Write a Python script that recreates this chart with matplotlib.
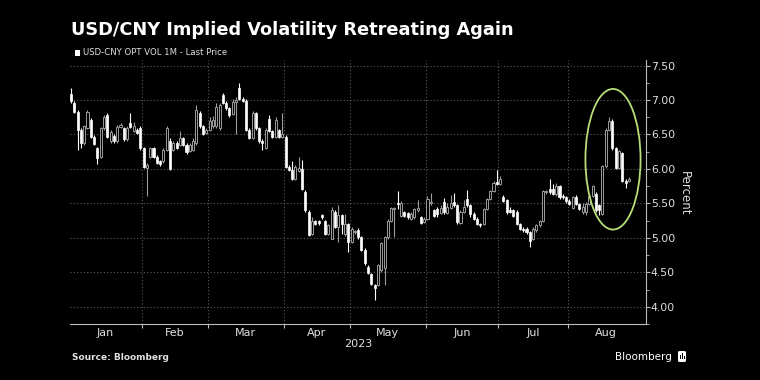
import matplotlib
matplotlib.use("Agg")
from matplotlib import pyplot as plt
from matplotlib.patches import Ellipse, FancyBboxPatch, Rectangle
import numpy as np
import pandas as pd

# USD-CNY 1M implied vol, daily candles Jan 2 - late Aug 2023

opens = [
    # Jan
    7.09, 6.96, 6.83, 6.57, 6.37, 6.60, 6.71, 6.47, 6.30, 6.18, 6.59, 6.78, 6.40, 6.48, 6.40, 6.61, 6.59, 6.43, 6.66, 6.55, 6.57, 6.59,
    # Feb
    6.30, 6.02, 6.18, 6.30, 6.18, 6.11, 6.11, 6.28, 6.40, 6.28, 6.38, 6.35, 6.45, 6.35, 6.26, 6.28, 6.38, 6.81, 6.62, 6.52,
    # Mar
    6.57, 6.62, 6.62, 6.59, 7.07, 6.96, 6.88, 6.80, 6.97, 7.17, 7.02, 6.99, 6.57, 6.45, 6.81, 6.59, 6.41, 6.31, 6.72, 6.55, 6.47, 6.56, 6.47,
    # Apr
    6.47, 6.03, 5.99, 5.86, 5.97, 6.00, 5.67, 5.38, 5.06, 5.24, 5.24, 5.33, 5.24, 5.06, 4.99, 5.37, 5.16, 5.33, 5.05, 5.20,
    # May
    4.94, 5.08, 5.12, 5.01, 4.83, 4.58, 4.47, 4.31, 4.32, 4.53, 4.56, 5.01, 5.25, 5.42, 5.51, 5.32, 5.37, 5.36, 5.28, 5.30, 5.40, 5.30, 5.23,
    # Jun
    5.28, 5.50, 5.40, 5.42, 5.36, 5.52, 5.36, 5.44, 5.52, 5.47, 5.22, 5.38, 5.57, 5.47, 5.35, 5.28, 5.20, 5.20, 5.42, 5.56, 5.68, 5.81,
    # Jul
    5.78, 5.59, 5.55, 5.40, 5.40, 5.38, 5.20, 5.13, 5.13, 5.08, 4.99, 5.11, 5.18, 5.25, 5.66, 5.71, 5.71, 5.63, 5.75, 5.61, 5.59,
    # Aug
    5.54, 5.44, 5.59, 5.49, 5.37, 5.37, 5.49, 5.61, 5.63, 5.47, 5.35, 6.04, 6.57, 6.69, 6.30, 6.02, 6.23, 5.83, 5.83,
]

closes = [
    6.98, 6.83, 6.57, 6.37, 6.62, 6.83, 6.47, 6.36, 6.16, 6.59, 6.76, 6.47, 6.54, 6.40, 6.61, 6.64, 6.43, 6.60, 6.61, 6.62, 6.52, 6.30,
    6.03, 6.05, 6.30, 6.18, 6.09, 6.07, 6.28, 6.59, 6.00, 6.38, 6.31, 6.45, 6.35, 6.24, 6.35, 6.40, 6.85, 6.62, 6.51, 6.57,
    6.69, 6.71, 6.90, 6.93, 6.96, 6.88, 6.78, 6.97, 7.00, 7.02, 6.99, 6.57, 6.45, 6.81, 6.59, 6.40, 6.37, 6.57, 6.55, 6.47, 6.71, 6.47, 6.50,
    6.03, 5.99, 5.86, 6.03, 6.02, 5.71, 5.40, 5.04, 5.25, 5.20, 5.21, 5.30, 5.06, 5.18, 5.40, 5.16, 5.33, 5.20, 5.20, 4.94,
    5.13, 5.10, 5.01, 4.83, 4.63, 4.49, 4.33, 4.27, 4.60, 4.92, 5.01, 5.25, 5.43, 5.43, 5.49, 5.51, 5.32, 5.30, 5.35, 5.42, 5.44, 5.22, 5.28,
    5.57, 5.52, 5.32, 5.35, 5.44, 5.37, 5.45, 5.50, 5.47, 5.23, 5.38, 5.45, 5.47, 5.35, 5.28, 5.20, 5.18, 5.42, 5.56, 5.68, 5.80, 5.78,
    5.85, 5.54, 5.37, 5.38, 5.32, 5.20, 5.13, 5.11, 5.09, 4.96, 5.13, 5.18, 5.24, 5.68, 5.68, 5.66, 5.64, 5.75, 5.59, 5.59, 5.54,
    5.49, 5.59, 5.49, 5.42, 5.45, 5.49, 5.61, 5.75, 5.40, 5.40, 6.04, 6.57, 6.69, 6.30, 6.02, 6.26, 5.83, 5.80, 5.86,
]

highs = [
    7.17, 6.98, 6.85, 6.60, 6.64, 6.86, 6.74, 6.49, 6.32, 6.61, 6.78, 6.81, 6.56, 6.50, 6.63, 6.66, 6.61, 6.62, 6.81, 6.68, 6.59, 6.62,
    6.32, 6.08, 6.32, 6.32, 6.20, 6.13, 6.30, 6.62, 6.45, 6.40, 6.40, 6.55, 6.47, 6.37, 6.37, 6.45, 6.92, 6.84, 6.64, 6.59,
    6.75, 6.77, 6.95, 6.96, 7.10, 6.98, 6.90, 7.02, 7.05, 7.25, 7.05, 7.01, 6.59, 6.84, 6.83, 6.61, 6.43, 6.60, 6.78, 6.57, 6.76, 6.58, 6.81,
    6.49, 6.05, 6.12, 6.05, 6.17, 6.13, 5.69, 5.40, 5.30, 5.26, 5.26, 5.35, 5.26, 5.20, 5.45, 5.40, 5.47, 5.35, 5.35, 5.22,
    5.15, 5.12, 5.14, 5.03, 4.85, 4.60, 4.49, 4.33, 4.62, 4.94, 5.03, 5.27, 5.45, 5.45, 5.68, 5.53, 5.39, 5.38, 5.37, 5.44, 5.55, 5.32, 5.30,
    5.60, 5.65, 5.42, 5.45, 5.48, 5.58, 5.50, 5.62, 5.65, 5.49, 5.40, 5.55, 5.70, 5.49, 5.37, 5.30, 5.22, 5.44, 5.58, 5.70, 5.82, 5.99,
    5.90, 5.62, 5.57, 5.45, 5.42, 5.40, 5.22, 5.15, 5.15, 5.10, 5.15, 5.20, 5.26, 5.70, 5.70, 5.85, 5.78, 5.80, 5.77, 5.63, 5.61,
    5.56, 5.61, 5.62, 5.51, 5.50, 5.52, 5.63, 5.77, 5.66, 5.49, 6.06, 6.59, 6.76, 6.72, 6.32, 6.28, 6.25, 5.85, 5.88,
]

lows = [
    6.96, 6.81, 6.28, 6.30, 6.35, 6.58, 6.45, 6.34, 6.07, 6.16, 6.57, 6.45, 6.38, 6.38, 6.38, 6.59, 6.41, 6.41, 6.59, 6.53, 6.50, 6.28,
    6.01, 5.61, 6.16, 6.16, 6.07, 6.04, 6.09, 6.26, 5.98, 6.26, 6.29, 6.33, 6.33, 6.22, 6.24, 6.26, 6.35, 6.60, 6.49, 6.50,
    6.55, 6.60, 6.60, 6.57, 6.94, 6.86, 6.76, 6.78, 6.50, 7.00, 6.97, 6.55, 6.43, 6.43, 6.57, 6.38, 6.28, 6.29, 6.53, 6.45, 6.45, 6.45, 6.45,
    6.01, 5.97, 5.84, 5.84, 5.95, 5.69, 5.38, 5.02, 5.04, 5.18, 5.19, 5.28, 5.04, 5.04, 4.98, 5.14, 4.94, 5.05, 5.03, 4.80,
    4.92, 5.06, 4.99, 4.81, 4.61, 4.47, 4.31, 4.10, 4.30, 4.51, 4.32, 4.99, 5.23, 5.01, 5.42, 5.30, 5.30, 5.28, 5.26, 5.28, 5.38, 5.20, 5.21,
    5.26, 5.48, 5.30, 5.30, 5.34, 5.35, 5.34, 5.42, 5.45, 5.20, 5.20, 5.36, 5.45, 5.30, 5.26, 5.18, 5.16, 5.18, 5.40, 5.55, 5.66, 5.76,
    5.76, 5.52, 5.35, 5.36, 5.30, 5.18, 5.11, 5.09, 5.05, 4.87, 4.97, 5.09, 5.16, 5.23, 5.64, 5.64, 5.62, 5.61, 5.57, 5.57, 5.50,
    5.47, 5.42, 5.47, 5.40, 5.35, 5.33, 5.47, 5.59, 5.38, 5.33, 5.33, 6.02, 6.55, 6.28, 6.00, 6.00, 5.81, 5.72, 5.81,
]

months = ["Jan", "Feb", "Mar", "Apr", "May", "Jun", "Jul", "Aug"]
yticks = [4.00, 4.50, 5.00, 5.50, 6.00, 6.50, 7.00, 7.50]

o = np.array(opens)
c = np.array(closes)
h = np.array(highs)
l = np.array(lows)
x = np.arange(len(c))

# business-day axis Jan 2 - Aug 31
days = pd.bdate_range("2023-01-02", "2023-08-31")
month_no = days.month.values
starts = [np.where(month_no == m)[0][0] for m in range(1, 9)]
ends = [np.where(month_no == m)[0][-1] for m in range(1, 9)]
bounds = [s - 0.5 for s in starts]
centers = [(s + e) / 2 for s, e in zip(starts, ends)]

bg = "black"
grey = "#9c9c9c"
fig = plt.figure(figsize=(7.6, 3.8), dpi=100, facecolor=bg)
ax = fig.add_axes([70 / 760, 56 / 380, 576 / 760, 264 / 380], facecolor=bg)

up = c >= o
wick_col = np.where(up, grey, "white")
ax.vlines(x, l, h, colors=wick_col, linewidth=0.8, zorder=2)
body_bottom = np.minimum(o, c)
body_h = np.maximum(np.abs(c - o), 0.012)
ax.bar(x[up], body_h[up], bottom=body_bottom[up], width=0.62,
       facecolor=bg, edgecolor=grey, linewidth=0.7, zorder=3)
ax.bar(x[~up], body_h[~up], bottom=body_bottom[~up], width=0.62,
       facecolor="white", edgecolor="white", linewidth=0.5, zorder=3)

# circle the August spike
ax.add_patch(Ellipse((164.2, 6.14), 16.7, 2.04, fill=False,
                     edgecolor="#b8df78", linewidth=1.3, zorder=4))

ax.set_xlim(-0.3, 174.2)
ax.set_ylim(3.77, 7.58)

# gridlines
ax.set_yticks(yticks)
ax.set_yticks(np.arange(3.75, 7.6, 0.25), minor=True)
ax.yaxis.grid(True, which="major", linestyle=(0, (1, 2)), color="#5a5a5a", linewidth=0.8)
for b in bounds[1:]:
    ax.axvline(b, linestyle=(0, (1, 2)), color="#5a5a5a", linewidth=0.8, zorder=0)
ax.set_axisbelow(True)

ax.yaxis.tick_right()
ax.set_yticklabels(["%.2f" % v for v in yticks])
ax.tick_params(axis="y", which="major", colors="#bbbbbb", labelcolor="#e0e0e0",
               labelsize=7.8, length=3, width=0.8, pad=0.5)
ax.tick_params(axis="y", which="minor", colors="#bbbbbb", length=2, width=0.6)

ax.set_xticks(centers)
ax.set_xticklabels(months)
ax.set_xticks(bounds[1:], minor=True)
ax.tick_params(axis="x", which="major", length=0, labelcolor="#e0e0e0", labelsize=8, pad=3)
ax.tick_params(axis="x", which="minor", length=3, color="#bbbbbb", width=0.8)

for side in ["top", "left"]:
    ax.spines[side].set_visible(False)
ax.spines["right"].set_color("#bbbbbb")
ax.spines["bottom"].set_color("#bbbbbb")
ax.spines["right"].set_linewidth(0.8)
ax.spines["bottom"].set_linewidth(0.8)

fig.text(358 / 760, 1 - 344 / 380, "2023", color="#e0e0e0", fontsize=8, ha="center", va="center")
fig.text(684 / 760, 1 - 193 / 380, "Percent", color="#e0e0e0", fontsize=8.5,
         rotation=270, ha="center", va="center")

# title, legend, footer
fig.text(71 / 760, 1 - 35 / 380, "USD/CNY Implied Volatility Retreating Again",
         color="white", fontsize=12.8, fontweight="bold", ha="left", va="baseline")
fig.patches.append(Rectangle((75 / 760, 1 - 55.5 / 380), 5 / 760, 5 / 380,
                             transform=fig.transFigure, facecolor="white", edgecolor="none"))
fig.text(83 / 760, 1 - 52.7 / 380, "USD-CNY OPT VOL 1M - Last Price",
         color="#e0e0e0", fontsize=6.1, ha="left", va="center")
fig.text(72 / 760, 1 - 357 / 380, "Source: Bloomberg", color="#e0e0e0",
         fontsize=6.5, fontweight="bold", ha="left", va="center")
fig.text(672 / 760, 1 - 356.5 / 380, "Bloomberg", color="white", fontsize=7.5,
         ha="right", va="center")
fig.patches.append(FancyBboxPatch((678 / 760, 1 - 362 / 380), 8 / 760, 11 / 380,
                                  boxstyle="round,pad=0,rounding_size=0.003",
                                  transform=fig.transFigure, facecolor="white", edgecolor="none"))
for bx, bh in [(680, 4), (682, 6), (684, 3)]:
    fig.patches.append(Rectangle((bx / 760, 1 - 359 / 380), 1 / 760, bh / 380,
                                 transform=fig.transFigure, facecolor="black", edgecolor="none"))

fig.savefig("out.png", dpi=100, facecolor=bg)
